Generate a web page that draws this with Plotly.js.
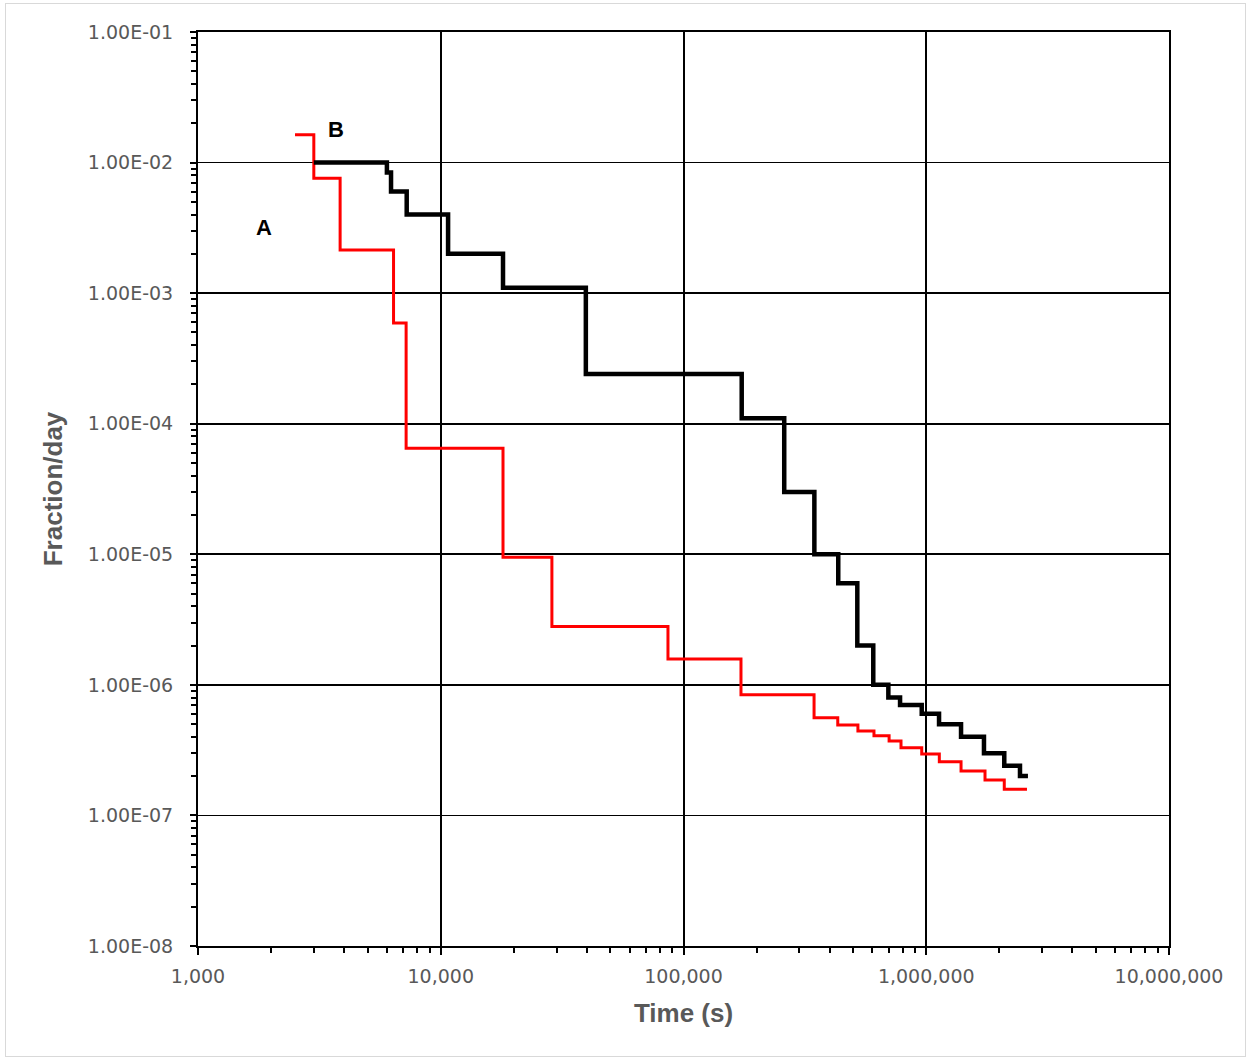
<!DOCTYPE html>
<html>
<head>
<meta charset="utf-8">
<script src="https://cdn.plot.ly/plotly-3.0.1.min.js"></script>
<style>
  html, body { margin: 0; padding: 0; background: #fff; }
  #wrap { position: relative; width: 1251px; height: 1061px; }
  #chart { position: absolute; left: 0; top: 0; width: 1251px; height: 1061px; }
  #frame { position: absolute; left: 5px; top: 3px; width: 1239px; height: 1052px;
           border: 1px solid #d9d9d9; pointer-events: none; z-index: 10; }
</style>
</head>
<body>
<div id="wrap"><div id="chart"></div><div id="frame"></div></div>
<script>
// Series A (red): step start times (s) and fraction/day
const timeA = [2510, 3000, 3850, 6390, 7200, 18050, 28700, 86300, 172500, 345000, 432000, 523000, 609000, 703000, 787000, 958000, 1132000, 1391000, 1746000, 2096000, 2600000];
const fracA = [1.63e-2, 7.6e-3, 2.14e-3, 5.9e-4, 6.5e-5, 9.5e-6, 2.8e-6, 1.58e-6, 8.4e-7, 5.6e-7, 4.93e-7, 4.43e-7, 4.08e-7, 3.72e-7, 3.30e-7, 2.95e-7, 2.58e-7, 2.19e-7, 1.87e-7, 1.59e-7, 1.59e-7];

// Series B (black)
const timeB = [3000, 6000, 6240, 7240, 10720, 18050, 39600, 173700, 260000, 346000, 434000, 520000, 605000, 698000, 780000, 958000, 1129000, 1391000, 1729000, 2096000, 2433000, 2624000];
const fracB = [1.0e-2, 8.4e-3, 6.0e-3, 4.0e-3, 2.0e-3, 1.1e-3, 2.4e-4, 1.1e-4, 3.0e-5, 1.0e-5, 6.0e-6, 2.0e-6, 1.0e-6, 8.0e-7, 7.0e-7, 6.0e-7, 5.0e-7, 4.0e-7, 3.0e-7, 2.4e-7, 2.0e-7, 2.0e-7];

// Tick labels
const xTickVals = [1000, 10000, 100000, 1000000, 10000000];
const xTickText = ["1,000", "10,000", "100,000", "1,000,000", "10,000,000"];
const yTickVals = [1e-1, 1e-2, 1e-3, 1e-4, 1e-5, 1e-6, 1e-7, 1e-8];
const yTickText = ["1.00E-01", "1.00E-02", "1.00E-03", "1.00E-04", "1.00E-05", "1.00E-06", "1.00E-07", "1.00E-08"];

// Curve labels
const labelText = ["A", "B"];
const labelTime = [1870, 3700];
const labelFrac = [3.21e-3, 1.78e-2];

function minorTicks(fromExp, toExp) {
  const out = [];
  for (let e = fromExp; e < toExp; e++) {
    for (let m = 2; m <= 9; m++) out.push(m * Math.pow(10, e));
  }
  return out;
}

const tickFont = { family: "DejaVu Sans", size: 19, color: "#595959" };
const titleFont = { family: "Liberation Sans, Arial", size: 26, color: "#595959", weight: "bold" };

const traces = [
  { x: timeA, y: fracA, type: "scatter", mode: "lines", line: { shape: "hv", color: "#ff0000", width: 3 }, showlegend: false, hoverinfo: "skip" },
  { x: timeB, y: fracB, type: "scatter", mode: "lines", line: { shape: "hv", color: "#000000", width: 4.5 }, showlegend: false, hoverinfo: "skip" }
];

const annotations = labelText.map((t, i) => ({
  x: Math.log10(labelTime[i]), y: Math.log10(labelFrac[i]), xref: "x", yref: "y",
  text: "<b>" + t + "</b>", showarrow: false,
  font: { family: "Liberation Sans, Arial", size: 22, color: "#000" }
}));

const layout = {
  width: 1251, height: 1061,
  margin: { l: 198, r: 82, t: 32, b: 115, pad: 0 },
  paper_bgcolor: "#fff", plot_bgcolor: "#fff",
  showlegend: false,
  xaxis: {
    type: "log", range: [3, 7],
    tickmode: "array", tickvals: xTickVals, ticktext: xTickText,
    tickfont: tickFont, ticks: "outside", ticklen: 7, tickwidth: 2, tickcolor: "#000",
    ticklabelstandoff: 5,
    showline: true, linecolor: "#000", linewidth: 2, mirror: true,
    showgrid: true, gridcolor: "#000", gridwidth: 2, zeroline: false,
    minor: { tickmode: "array", tickvals: minorTicks(3, 7), ticks: "outside", ticklen: 5, tickwidth: 2, tickcolor: "#000", showgrid: false },
    title: { text: "Time (s)", font: titleFont, standoff: 18 }
  },
  yaxis: {
    type: "log", range: [-8, -1],
    tickmode: "array", tickvals: yTickVals, ticktext: yTickText,
    tickfont: tickFont, ticks: "outside", ticklen: 6, tickwidth: 2, tickcolor: "#000",
    ticklabelstandoff: 13,
    showline: true, linecolor: "#000", linewidth: 2, mirror: true,
    showgrid: true, gridcolor: "#000", gridwidth: 1.6, zeroline: false,
    minor: { tickmode: "array", tickvals: minorTicks(-8, -1), ticks: "outside", ticklen: 5, tickwidth: 2, tickcolor: "#000", showgrid: false },
    title: { text: "Fraction/day", font: titleFont, standoff: 18 }
  },
  annotations: annotations
};

Plotly.newPlot("chart", traces, layout, { staticPlot: true, displayModeBar: false });
</script>
</body>
</html>
